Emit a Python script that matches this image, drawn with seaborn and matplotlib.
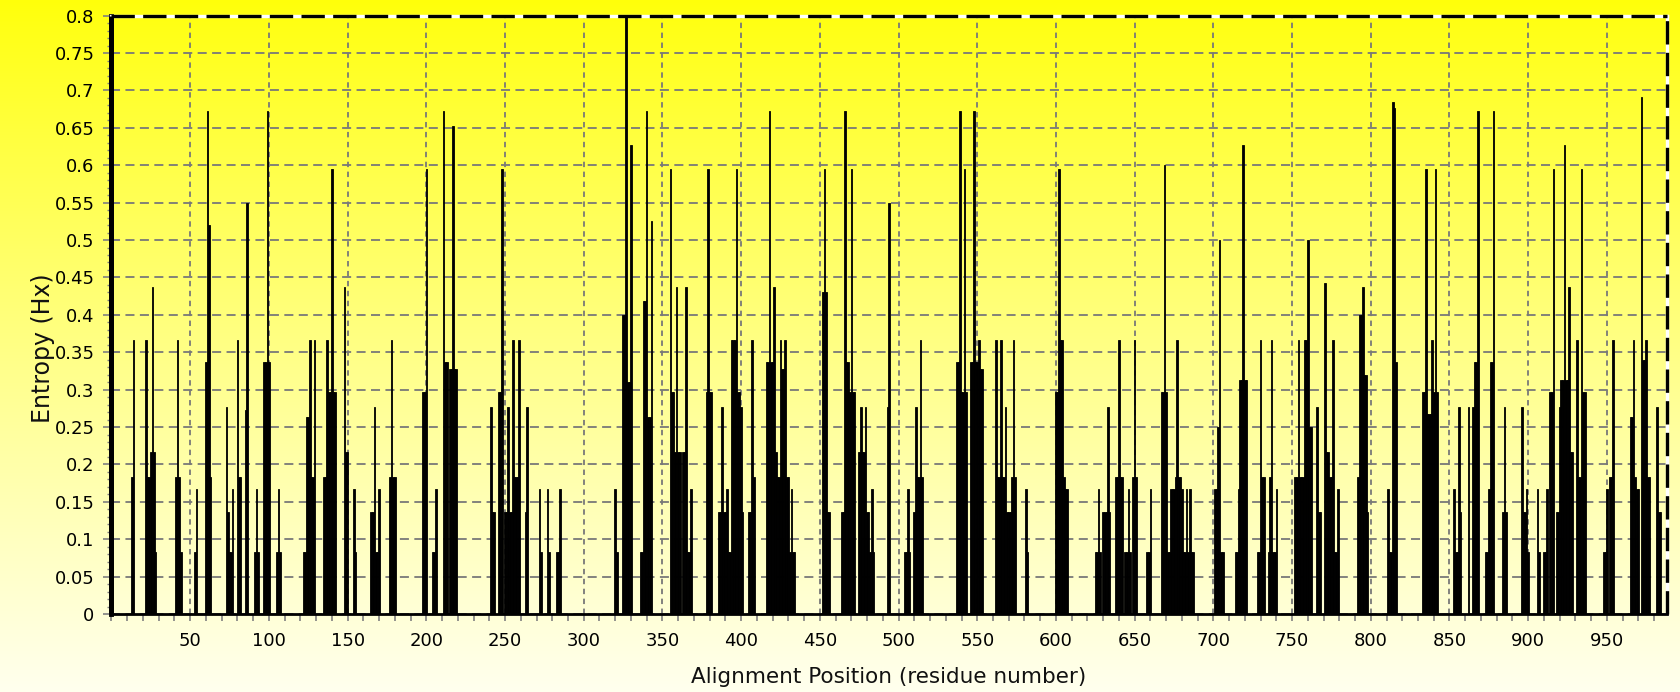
import numpy as np
import matplotlib
matplotlib.use("Agg")
import matplotlib.pyplot as plt
import seaborn as sns
from matplotlib.ticker import MultipleLocator, FuncFormatter
from matplotlib.lines import Line2D

# ---------------- data ----------------
positions = [
    13, 14,
    22, 23, 24, 25, 26, 27, 28,
    41, 42, 43, 44,
    53, 54,
    60, 61, 62, 63,
    73, 74, 75, 76, 77, 80, 81, 82,
    85, 86,
    91, 92, 93,
    97, 98, 99, 100,
    105, 106, 107,
    122, 123, 124, 125, 126, 127, 128, 129,
    135, 136, 137, 138, 139, 140, 141, 142,
    148, 149, 150,
    154, 155,
    165, 166, 167, 168, 169, 170,
    177, 178, 179, 180,
    198, 199, 200,
    204, 205, 206,
    211, 212, 213,
    215, 216, 217, 218, 219,
    241, 242, 243,
    246, 247, 248,
    250, 251, 252, 253, 254, 255, 256, 257, 258, 259, 263, 264,
    272, 273,
    277, 278,
    283, 284, 285,
    320, 321,
    325, 326, 327, 328, 329, 330,
    336, 337, 338, 339, 340, 341, 342, 343,
    355, 356, 357, 358, 359, 360, 361, 363, 364, 365, 366, 367, 368,
    378, 379, 380, 381,
    386, 387, 388, 389, 390, 391, 392, 393, 394, 395, 396, 397, 398, 399, 400, 401,
    405, 406, 407, 408,
    416, 417, 418, 419, 420, 421, 422, 423, 424, 425, 426, 427, 428, 429, 430, 431, 432, 433, 434,
    452, 453, 454, 455, 456,
    464, 465, 466, 467, 468, 469, 470, 471, 472,
    475, 476, 477, 478, 479, 480, 481, 482, 483, 484,
    493, 494,
    504, 505, 506, 507,
    510, 511, 512, 513, 514, 515,
    537, 538, 539, 540, 541, 542, 543,
    546, 547, 548, 549, 550, 551, 552, 553,
    562, 563, 564, 565, 566, 567, 568, 569, 570, 571, 572, 573, 574,
    581, 582,
    600, 601, 602, 603, 604, 605, 606, 607,
    625, 626, 627, 628,
    630, 631, 632, 633, 634,
    638, 639, 640, 641, 642,
    644, 645, 646, 647,
    649, 650, 651,
    658, 659, 660,
    667, 668, 669, 670, 671, 672, 673, 674, 675, 676, 677, 678, 679, 680, 681, 682, 683, 684, 685, 686, 687,
    701, 702, 703, 704, 705, 706,
    714, 715, 716, 717, 718, 719, 720, 721,
    728, 729, 730, 731, 732,
    735, 736, 737, 738, 739, 740,
    752, 753, 754, 755, 756, 757, 758, 759, 760, 761, 762,
    766, 767, 768,
    771, 772, 773, 774, 775, 776, 777, 778, 779,
    792, 793, 794, 795, 796, 797, 798,
    811, 812, 813, 814, 815, 816,
    833, 834, 835, 836, 837, 838, 839, 840, 841, 842,
    853, 854, 855, 856, 857,
    862, 865, 866, 867, 868,
    873, 874, 875, 876, 877, 878,
    884, 885, 886,
    896, 897, 898, 899, 900,
    906, 907,
    910, 911, 912,
    914, 915, 916,
    918, 919, 920, 921, 922, 923, 924, 925, 926, 927, 928,
    931, 932, 933, 934, 935, 936,
    948, 949, 950, 952, 953, 954,
    965, 966, 967, 968, 969, 970, 972, 973, 974, 975, 976, 977,
    982, 983, 984,
]

entropy = [
    0.183, 0.367,
    0.367, 0.183, 0.183, 0.217, 0.437, 0.217, 0.083,
    0.183, 0.367, 0.183, 0.083,
    0.083, 0.167,
    0.337, 0.673, 0.520, 0.183,
    0.277, 0.137, 0.083, 0.083, 0.167, 0.367, 0.183, 0.183,
    0.273, 0.550,
    0.083, 0.167, 0.083,
    0.337, 0.337, 0.673, 0.337,
    0.083, 0.167, 0.083,
    0.083, 0.083, 0.264, 0.264, 0.367, 0.183, 0.183, 0.367,
    0.183, 0.183, 0.367, 0.297, 0.297, 0.595, 0.297, 0.297,
    0.437, 0.217, 0.217,
    0.167, 0.083,
    0.137, 0.137, 0.277, 0.083, 0.083, 0.167,
    0.183, 0.367, 0.183, 0.183,
    0.297, 0.297, 0.595,
    0.083, 0.083, 0.167,
    0.673, 0.337, 0.337,
    0.327, 0.327, 0.653, 0.327, 0.327,
    0.277, 0.137, 0.137,
    0.297, 0.297, 0.595,
    0.137, 0.137, 0.277, 0.137, 0.137, 0.367, 0.183, 0.183, 0.183, 0.367, 0.137, 0.277,
    0.167, 0.083,
    0.167, 0.083,
    0.083, 0.083, 0.167,
    0.167, 0.083,
    0.400, 0.400, 0.800, 0.310, 0.310, 0.627,
    0.083, 0.083, 0.418, 0.418, 0.673, 0.263, 0.263, 0.526,
    0.595, 0.297, 0.297, 0.217, 0.437, 0.217, 0.217, 0.217, 0.217, 0.437, 0.083, 0.083, 0.167,
    0.297, 0.595, 0.297, 0.297,
    0.137, 0.137, 0.277, 0.137, 0.137, 0.167, 0.083, 0.083, 0.367, 0.367, 0.367, 0.595, 0.297, 0.297, 0.277, 0.137,
    0.137, 0.137, 0.367, 0.183,
    0.337, 0.337, 0.673, 0.337, 0.337, 0.437, 0.217, 0.183, 0.183, 0.367, 0.327, 0.327, 0.367, 0.183, 0.183, 0.083, 0.167, 0.083, 0.083,
    0.430, 0.595, 0.430, 0.137, 0.137,
    0.137, 0.137, 0.673, 0.337, 0.337, 0.297, 0.595, 0.297, 0.297,
    0.217, 0.277, 0.217, 0.217, 0.277, 0.137, 0.137, 0.083, 0.167, 0.083,
    0.277, 0.550,
    0.083, 0.083, 0.167, 0.083,
    0.137, 0.277, 0.183, 0.183, 0.367, 0.183,
    0.337, 0.337, 0.673, 0.297, 0.297, 0.595, 0.297,
    0.337, 0.337, 0.673, 0.337, 0.337, 0.367, 0.327, 0.327,
    0.367, 0.183, 0.183, 0.367, 0.183, 0.183, 0.277, 0.137, 0.137, 0.137, 0.183, 0.367, 0.183,
    0.167, 0.083,
    0.297, 0.297, 0.595, 0.367, 0.367, 0.183, 0.167, 0.167,
    0.083, 0.083, 0.167, 0.083,
    0.137, 0.137, 0.137, 0.277, 0.137,
    0.183, 0.183, 0.367, 0.183, 0.183,
    0.083, 0.083, 0.167, 0.083,
    0.183, 0.367, 0.183,
    0.083, 0.083, 0.167,
    0.297, 0.297, 0.600, 0.297, 0.083, 0.083, 0.167, 0.167, 0.167, 0.183, 0.367, 0.183, 0.183, 0.167, 0.083, 0.083, 0.167, 0.083, 0.167, 0.083, 0.083,
    0.167, 0.167, 0.250, 0.500, 0.083, 0.083,
    0.083, 0.083, 0.167, 0.313, 0.313, 0.627, 0.313, 0.313,
    0.083, 0.083, 0.367, 0.183, 0.183,
    0.083, 0.183, 0.367, 0.083, 0.083, 0.167,
    0.183, 0.183, 0.367, 0.183, 0.183, 0.183, 0.367, 0.367, 0.500, 0.250, 0.250,
    0.277, 0.137, 0.137,
    0.442, 0.217, 0.217, 0.183, 0.183, 0.367, 0.083, 0.083, 0.167,
    0.183, 0.400, 0.400, 0.437, 0.320, 0.320, 0.137,
    0.167, 0.083, 0.083, 0.685, 0.676, 0.337,
    0.297, 0.297, 0.595, 0.267, 0.267, 0.267, 0.367, 0.297, 0.595, 0.297,
    0.167, 0.083, 0.083, 0.277, 0.137,
    0.277, 0.277, 0.337, 0.337, 0.673,
    0.083, 0.083, 0.167, 0.337, 0.337, 0.673,
    0.137, 0.277, 0.137,
    0.277, 0.137, 0.137, 0.167, 0.083,
    0.167, 0.083,
    0.083, 0.083, 0.167,
    0.297, 0.297, 0.595,
    0.137, 0.137, 0.277, 0.313, 0.313, 0.627, 0.313, 0.313, 0.437, 0.217, 0.217,
    0.367, 0.183, 0.183, 0.595, 0.297, 0.297,
    0.083, 0.083, 0.167, 0.183, 0.183, 0.367,
    0.263, 0.263, 0.367, 0.183, 0.167, 0.167, 0.691, 0.340, 0.340, 0.367, 0.183, 0.183,
    0.277, 0.137, 0.137,
]

x_ticks = list(range(50, 951, 50))
y_ticks = [round(0.05 * i, 2) for i in range(17)]
x_label = "Alignment Position (residue number)"
y_label = "Entropy (Hx)"
alignment_length = 988

# ---------------- style ----------------
sns.set_theme(style="white")
plt.rcParams["font.family"] = ["DejaVu Sans"]

W, H = 1681, 692
fig = plt.figure(figsize=(W / 100, H / 100), dpi=100)

# yellow -> cream vertical gradient behind everything
bg = fig.add_axes([0, 0, 1, 1], zorder=-10)
t = np.linspace(0, 1, 256).reshape(-1, 1, 1)
top_c = np.array([255, 255, 10]) / 255.0
bot_c = np.array([255, 255, 238]) / 255.0
grad = top_c + (bot_c - top_c) * t ** 0.9
bg.imshow(grad, aspect="auto", extent=[0, 1, 0, 1], origin="upper")
bg.axis("off")

left, right, top, bottom = 111.5, 1666.7, 15.7, 614.0
ax = fig.add_axes([left / W, 1 - bottom / H, (right - left) / W, (bottom - top) / H])
ax.set_facecolor("none")

sns.barplot(x=positions, y=entropy, native_scale=True, color="black",
            saturation=1, width=1.0, linewidth=0.6, edgecolor="black",
            errorbar=None, ax=ax, zorder=3)

ax.set_xlim(0, alignment_length)
ax.set_ylim(0, 0.8)
ax.set_xticks(x_ticks)
ax.set_xticklabels([str(v) for v in x_ticks])
ax.xaxis.set_minor_locator(MultipleLocator(10))
ax.set_yticks(y_ticks)
ax.yaxis.set_minor_locator(MultipleLocator(0.01))
ax.yaxis.set_major_formatter(
    FuncFormatter(lambda v, _: f"{v:.2f}".rstrip("0").rstrip(".")))
ax.set_xlabel("")
ax.set_ylabel("")

ax.set_axisbelow(True)
ax.grid(True, which="major", axis="y", color="#787878",
        linestyle=(0, (5, 3)), linewidth=1.3, alpha=1)
ax.grid(True, which="major", axis="x", color="#787878",
        linestyle=(0, (3, 2.5)), linewidth=1.3, alpha=1)

ax.spines["left"].set_color("black")
ax.spines["left"].set_linewidth(3.5)
ax.spines["bottom"].set_color("black")
ax.spines["bottom"].set_linewidth(2.0)
for s in ("top", "right"):
    ax.spines[s].set_color("white")
    ax.spines[s].set_linewidth(2.4)
ax.add_line(Line2D([0, 1], [1, 1], transform=ax.transAxes, color="black",
                   lw=2.4, linestyle=(0, (7, 2.5)), clip_on=False, zorder=5))
ax.add_line(Line2D([1, 1], [0, 1], transform=ax.transAxes, color="black",
                   lw=2.4, linestyle=(0, (7, 2.5)), clip_on=False, zorder=5))
ax.add_line(Line2D([0, 0], [0, 1], transform=ax.transAxes, color="black",
                   lw=3.5, solid_capstyle="butt", clip_on=False, zorder=6))

ax.tick_params(axis="x", which="both", direction="out", colors="#808080",
               labelcolor="black", bottom=True, width=1.2, length=5,
               labelsize=13, pad=8)
ax.tick_params(axis="y", which="major", direction="inout", colors="#808080",
               labelcolor="black", left=True, width=1.2, length=11.5,
               labelsize=13, pad=6.5)
ax.tick_params(axis="y", which="minor", direction="out", colors="#808080",
               left=True, width=1.0, length=3)

fig.text(889 / W, 1 - 677 / H, x_label, ha="center", va="center",
         fontsize=15.5, color="#111111")
fig.text(43 / W, 1 - 348 / H, y_label, ha="center", va="center",
         rotation=90, fontsize=17, color="#111111")

fig.savefig("out.png", dpi=100)
